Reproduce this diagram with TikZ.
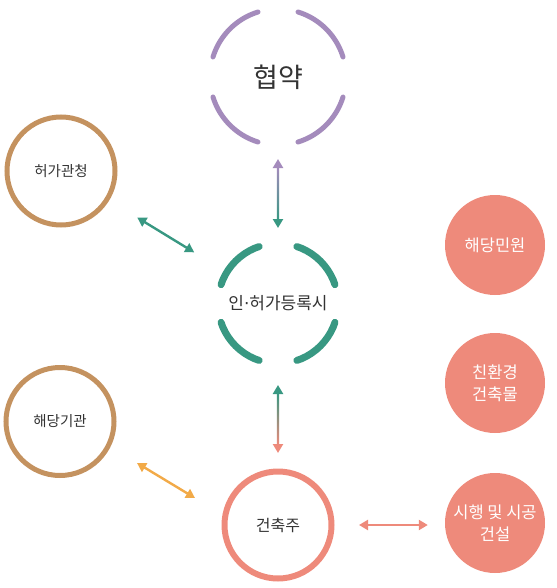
\documentclass[tikz,border=0pt]{standalone}
\usepackage{fontspec}
\setmainfont{Noto Sans CJK KR}
\newfontfamily\dotfont{DejaVu Sans}
\usepackage{xcolor}
\usetikzlibrary{arrows.meta, calc}

\definecolor{cpurple}{HTML}{A48BBC}
\definecolor{cteal}{HTML}{389882}
\definecolor{cbrown}{HTML}{C4925F}
\definecolor{csalmon}{HTML}{EE8A7B}
\definecolor{corange}{HTML}{F2AA48}
\definecolor{ctext}{HTML}{333333}

\begin{document}
\begin{tikzpicture}[
    x=1pt, y=-1pt,
    text=ctext,
    ring/.style={circle, draw=#1, line width=5pt, minimum size=108pt, inner sep=0pt,
        font=\fontsize{14.5}{18}\selectfont},
    blob/.style={circle, fill=csalmon, minimum size=100pt, inner sep=0pt, text=white,
        align=center, font=\fontsize{16.5}{22}\selectfont},
    link/.style={line width=2.4pt},
    tipP/.style={arrows={Triangle[length=9pt,width=10pt,color=#1]-Triangle[length=9pt,width=10pt,color=#1]}},
]

\useasboundingbox (0,0) rectangle (556,588);

%------------------------------------------------------------
% Broken rings (centre column)
%   dash pattern: 4 arcs of 60 deg, gaps centred on the axes
%------------------------------------------------------------
\node[circle, draw=cpurple, line width=5pt, line cap=round, minimum size=136pt,
      dash pattern=on 66.21pt off 40.6pt, dash phase=86.51pt,
      font=\fontsize{27}{30}\selectfont] (hyup) at (278,77) {협약};

\node[circle, draw=cteal, line width=7pt, line cap=round, minimum size=120pt,
      dash pattern=on 55.83pt off 38.42pt, dash phase=75.04pt,
      font=\fontsize{17}{20}\selectfont] (permit) at (278,303.5)
      {인{\dotfont·}허가등록시};

%------------------------------------------------------------
% Solid rings
%------------------------------------------------------------
\node[ring=cbrown] (office) at (61,171) {허가관청};
\node[ring=cbrown] (agency) at (60,421.5) {해당기관};
\node[ring=csalmon, line width=6pt, minimum size=107pt,
      font=\fontsize{16}{18}\selectfont] (owner) at (278,525) {건축주};

%------------------------------------------------------------
% Filled discs (right column)
%------------------------------------------------------------
\node[blob] (civil) at (495,245) {해당민원};
\node[blob] (green) at (495,383) {친환경\\건축물};
\node[blob] (build) at (495,523) {시행 및 시공\\건설};

%------------------------------------------------------------
% Connectors
%------------------------------------------------------------
% agreement <-> permit (purple to teal)
\draw[link, draw=cteal,
      arrows={Triangle[length=9pt,width=10pt,color=cpurple]-Triangle[length=9pt,width=10pt,color=cteal]},
      shorten <=11.5pt, shorten >=12pt] (hyup.south) -- (permit.north);
\shade[top color=cpurple, bottom color=cteal]
    ($(hyup.south)+(-1.2,19.5)$) rectangle ($(permit.north)+(1.2,-20)$);

% permit <-> owner (teal to salmon)
\draw[link, draw=csalmon,
      arrows={Triangle[length=9pt,width=10pt,color=cteal]-Triangle[length=9pt,width=10pt,color=csalmon]},
      shorten <=18pt, shorten >=15.5pt] (permit.south) -- (owner.north);
\shade[top color=cteal, bottom color=csalmon]
    ($(permit.south)+(-1.2,26)$) rectangle ($(owner.north)+(1.2,-23.5)$);

% office <-> permit
\draw[link, draw=cteal, tipP=cteal, shorten <=32.9pt, shorten >=34.7pt] (office) -- (permit);

% agency <-> owner
\coordinate (aTail) at (137,463);
\coordinate (aHead) at (195,498);
\draw[link, draw=corange, tipP=corange] (aTail) -- (aHead);

% owner <-> build
\draw[link, draw=csalmon, tipP=csalmon, shorten <=24.5pt, shorten >=17pt]
    (owner.east) -- (owner.east -| build.west);

\end{tikzpicture}
\end{document}
